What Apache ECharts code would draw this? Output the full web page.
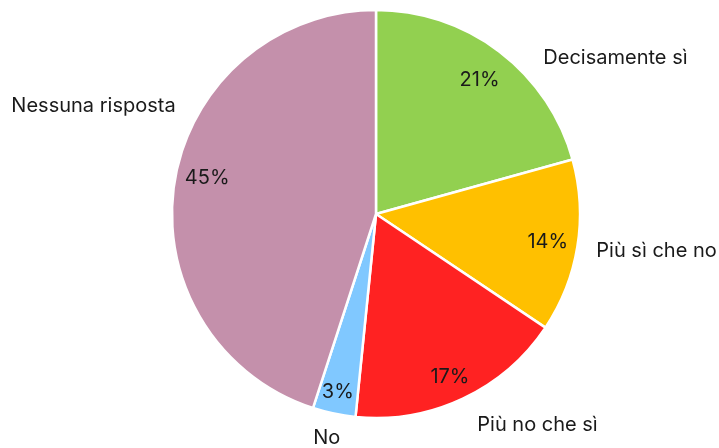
<!DOCTYPE html>
<html>
<head>
<meta charset="utf-8">
<script src="https://cdn.jsdelivr.net/npm/echarts@6/dist/echarts.min.js"></script>
<style>
  html, body { margin: 0; padding: 0; background: #fff; }
  #chart { width: 719px; height: 448px; }
</style>
</head>
<body>
<div id="chart"></div>
<script>
  // risposte, in senso orario dall'alto
  var categories = ['Decisamente sì', 'Più sì che no', 'Più no che sì', 'No', 'Nessuna risposta'];
  var values = [20.7, 13.7, 17.2, 3.4, 45.0];
  var colors = ['#92D050', '#FFC000', '#FF2222', '#80C8FF', '#C490AB'];

  // piccoli spostamenti delle etichette (come le mette Excel)
  var nameNudge = [[20, 13], [-8, 3], [-8, 19], [27, 17], [28, -75]];
  var pctNudge = [[-3, 6], [-2, 0], [-1, 4], [-2, 6], [5, -8]];

  var font = 'Inter, Roboto, sans-serif';

  var pieData = categories.map(function(name, i) {
    return { name: name, value: values[i], itemStyle: { color: colors[i] } };
  });

  var chart = echarts.init(document.getElementById('chart'));
  chart.setOption({
    animation: false,
    series: [
      {
        // fette + nomi fuori
        type: 'pie',
        center: [376, 214],
        radius: [0, 204],
        startAngle: 90,
        clockwise: true,
        silent: true,
        itemStyle: { borderColor: '#fff', borderWidth: 2.5 },
        label: {
          show: true,
          position: 'outside',
          formatter: '{b}',
          color: '#1a1a1a',
          fontSize: 20,
          fontFamily: font,
          overflow: 'none'
        },
        labelLine: { show: false, length: 8, length2: 14 },
        labelLayout: function(p) {
          var n = nameNudge[p.dataIndex];
          return { dx: n[0], dy: n[1] };
        },
        data: pieData
      },
      {
        // percentuali dentro
        type: 'pie',
        center: [376, 214],
        radius: [140, 206],
        startAngle: 90,
        clockwise: true,
        silent: true,
        itemStyle: { color: 'transparent', borderWidth: 0 },
        label: {
          show: true,
          position: 'inside',
          formatter: function(p) { return Math.round(p.percent) + '%'; },
          color: '#1a1a1a',
          fontSize: 20,
          fontFamily: font
        },
        labelLine: { show: false },
        labelLayout: function(p) {
          var n = pctNudge[p.dataIndex];
          return { dx: n[0], dy: n[1] };
        },
        data: categories.map(function(name, i) { return { name: name, value: values[i] }; })
      }
    ]
  });
</script>
</body>
</html>
